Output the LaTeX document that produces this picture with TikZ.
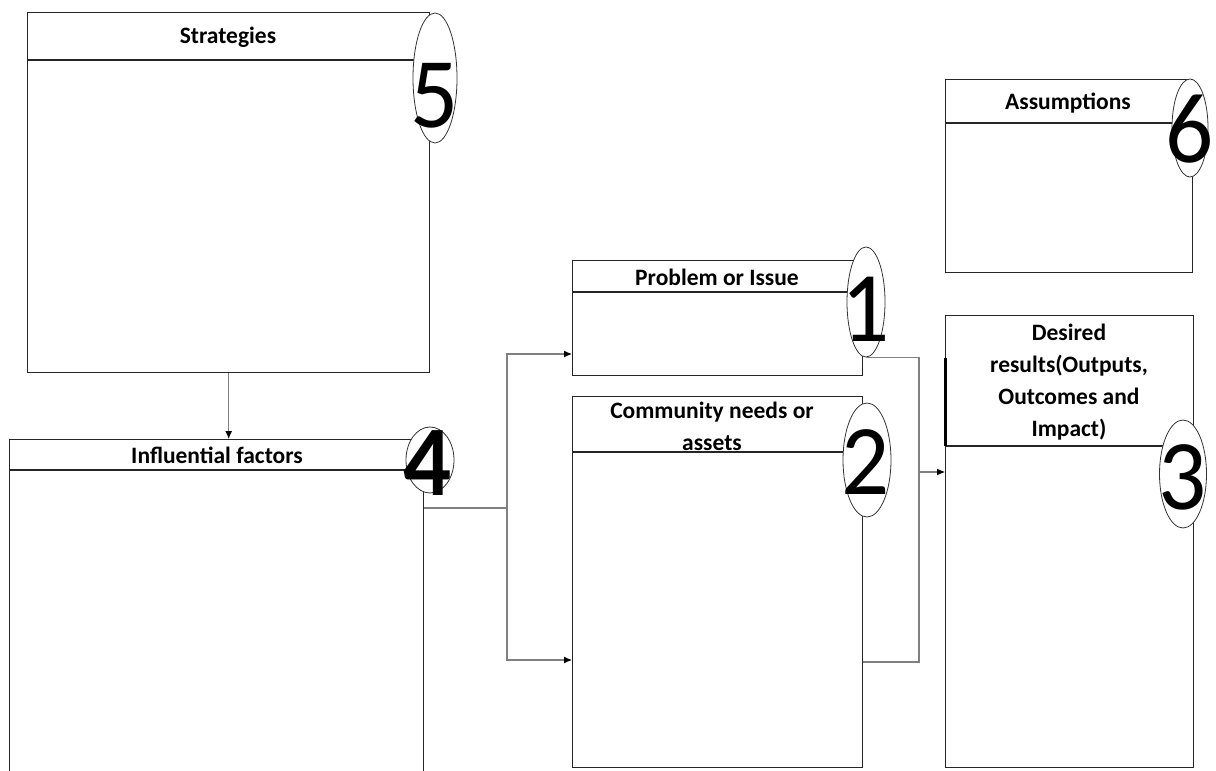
\documentclass[tikz,border=0pt]{standalone}
\usepackage{fontspec}
\setmainfont{Carlito}
\usepackage{graphicx}
\usetikzlibrary{arrows.meta,shapes.geometric}

\tikzset{
  panel/.style={draw=black!85,line width=1.4pt,rectangle,anchor=north west,inner sep=0pt},
  rule/.style={draw=black!85,line width=2pt},
  badge/.style={draw=black!80,line width=0.8pt,ellipse,fill=white,inner sep=0pt},
  heading/.style={font=\bfseries\fontsize{23.5}{32}\selectfont,align=center,inner sep=0pt},
  digit/.style={font=\fontsize{100}{100}\selectfont,inner sep=0pt},
  link/.style={draw=black!50,line width=1.1pt},
}
\newcommand{\narrow}[1]{\scalebox{0.95}[1]{#1}}

\begin{document}
\begin{tikzpicture}[x=1pt,y=-1pt,>={Latex[length=8pt,width=7pt,black]}]
\useasboundingbox (0,0) rectangle (1216,771);
\clip (0,0) rectangle (1216,771);

% boxes
\node[panel,minimum width=402pt,minimum height=360pt] (strat) at (27,12) {};
\node[panel,minimum width=414pt,minimum height=360pt] (infl) at (9,439) {};
\node[panel,minimum width=290pt,minimum height=115pt] (prob) at (572,260) {};
\node[panel,minimum width=290pt,minimum height=371pt] (comm) at (572,396) {};
\node[panel,minimum width=248pt,minimum height=452pt] (res) at (945,315) {};
\node[panel,minimum width=247pt,minimum height=193pt] (assum) at (945,79) {};

% header rules
\draw[rule] (strat.west |- 0,60) -- (strat.east |- 0,60);
\draw[rule] (infl.west |- 0,470) -- (infl.east |- 0,470);
\draw[rule] (prob.west |- 0,292) -- (prob.east |- 0,292);
\draw[rule] (comm.west |- 0,452) -- (comm.east |- 0,452);
\draw[rule] (res.west |- 0,446) -- (res.east |- 0,446);
\draw[rule] (assum.west |- 0,123) -- (assum.east |- 0,123);
\draw[line width=3pt] (res.west |- 0,358) -- (res.west |- 0,446);

% titles
\node[heading] (stratT) at (228,37) {Strategies};
\node[heading] (inflT) at (217,455) {Influential factors};
\node[heading] (probT) at (717,277) {Problem or Issue};
\node[heading] (commT) at (712,426) {Community needs or\\assets};
\node[heading] (resT) at (1069,382) {Desired\\results(Outputs,\\Outcomes and\\Impact)};
\node[heading] (assumT) at (1068,103) {Assumptions};

% connectors
\draw[link,->] (strat.south) -- (strat.south |- infl.north);
\coordinate (fork) at (507,508);
\draw[link] (infl.east |- fork) -- (fork);
\draw[link,->] (fork) |- (prob.west |- 0,354);
\draw[link,->] (fork) |- (comm.west |- 0,660);

% number badges
\node[badge,minimum width=44pt,minimum height=130pt] (b5) at (435,78) {};
\node[badge,minimum width=48pt,minimum height=66pt] (b4) at (430,460) {};
\node[badge,minimum width=38pt,minimum height=110pt] (b1) at (866,302) {};
\node[badge,minimum width=48pt,minimum height=114pt] (b2) at (867,460) {};
\node[badge,minimum width=47pt,minimum height=108pt] (b3) at (1183,474) {};
\node[badge,minimum width=36pt,minimum height=98pt] (b6) at (1190,128) {};
\node[digit] (d5) at (435,96) {\narrow{5}};
\node[digit,font=\bfseries\fontsize{100}{100}\selectfont] (d4) at (428,463) {\narrow{4}};
\node[digit] (d1) at (866,309) {\narrow{1}};
\node[digit] (d2) at (866,462) {\narrow{2}};
\node[digit] (d3) at (1183,477) {\narrow{3}};
\node[digit] (d6) at (1190,129) {\narrow{6}};

\coordinate (join) at (919,472);
\draw[link] (b1.south) -- (b1.south -| join) -- (join |- 0,662) -- (comm.east |- 0,662);
\draw[link,->] (join) -- (res.west |- join);
\end{tikzpicture}
\end{document}
